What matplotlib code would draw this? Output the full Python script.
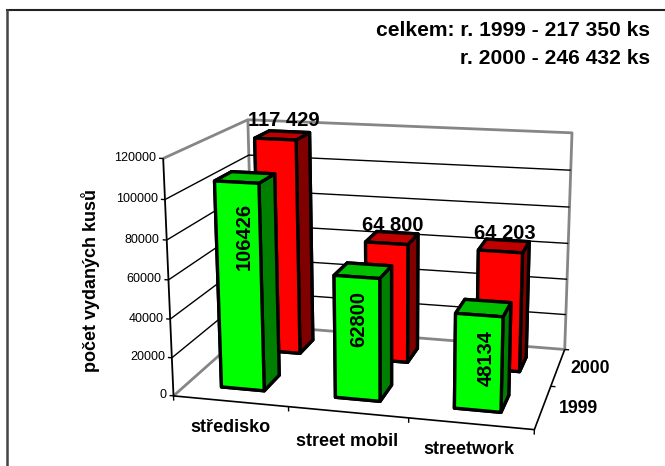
import numpy as np
import matplotlib
matplotlib.use('Agg')
import matplotlib.pyplot as plt
from matplotlib.lines import Line2D
from mpl_toolkits.mplot3d.art3d import Line3DCollection

plt.rcParams['font.family'] = ['Liberation Sans', 'DejaVu Sans']

categories = ['středisko', 'street mobil', 'streetwork']
years = ['1999', '2000']
values_1999 = [106426, 62800, 48134]
values_2000 = [117429, 64800, 64203]
labels_2000 = ['117 429', '64 800', '64 203']
z_ticks = [0, 20000, 40000, 60000, 80000, 100000, 120000]
z_max = 120000

W, H = 665, 466

# box corner (cat, series, value/zmax) -> where it sits on the picture
box = np.array([[0, 0, 0], [3, 0, 0], [3, 2, 0], [0, 2, 0], [0, 0, 1], [0, 2, 1], [3, 2, 1]], float)
pix = np.array([[174, 396], [534, 430], [565, 349], [253, 325], [163, 158], [248, 120], [572, 133]], float)


def fit_proj():
    rows = []
    rhs = []
    for (x, y, z), (u, v) in zip(box, pix):
        rows.append([x, y, z, 1, 0, 0, 0, 0, -u * x, -u * y, -u * z])
        rhs.append(u)
        rows.append([0, 0, 0, 0, x, y, z, 1, -v * x, -v * y, -v * z])
        rhs.append(v)
    p = np.linalg.lstsq(np.array(rows), np.array(rhs), rcond=None)[0]
    m = np.array([
        [p[0], p[1], p[2] / z_max, p[3]],
        [p[4], p[5], p[6] / z_max, p[7]],
        [-0.15, 1, -0.3 / z_max, 0],  # depth, only used for sorting faces
        [p[8], p[9], p[10] / z_max, 1],
    ])
    return m


fig = plt.figure(figsize=(W / 100, H / 100), dpi=100)
ax = fig.add_axes([0, 0, 1, 1], projection='3d', computed_zorder=False)
ax.set_axis_off()
ax.set_xlim(0, 3)
ax.set_ylim(0, 2)
ax.set_zlim(0, z_max)
ax.set_xticks([])
ax.set_yticks([])
ax.set_zticks([])
proj = fit_proj()
ax.get_proj = lambda: proj
ax.apply_aspect = lambda position=None: None
ax.M = proj


def line3d(pts, color='black', lw=1.0, zorder=3):
    ax.add_collection3d(Line3DCollection([pts], colors=color, linewidths=lw, zorder=zorder), autolim=False)


def label3d(x, y, z, s, **kw):
    # Text3D drops the rotation, so project the anchor and use a figure text
    v = proj @ np.array([x, y, z, 1.0])
    fig.text(v[0] / v[3] / W, 1 - v[1] / v[3] / H, s, ha=kw.pop('ha', 'center'), va=kw.pop('va', 'center'), **kw)


# walls
grey = '#868686'
line3d([(0, 0, 0), (0, 2, 0), (3, 2, 0), (3, 2, z_max), (0, 2, z_max), (0, 0, z_max)], grey, 2.0, 1)
line3d([(0, 2, 0), (0, 2, z_max)], grey, 2.0, 1)
for t in z_ticks[1:-1]:
    line3d([(0, 0, t), (0, 2, t), (3, 2, t)], 'black', 1.0, 2)

# axes in front
line3d([(0, 0, 0), (0, 0, z_max)], 'black', 1.3)
line3d([(0, 0, 0), (3, 0, 0), (3, 2, 0)], 'black', 1.2)
for t in z_ticks:
    line3d([(-0.035, 0, t), (0, 0, t)])
    label3d(-0.06, 0, t, str(t), ha='right', fontsize=9)
for i in range(4):
    line3d([(i, 0, 0), (i, 0, -2500)])
for i in range(1, 3):
    line3d([(3, i, 0), (3.04, i, 0)])

bar_x = [0.31, 1.31, 2.31]
bar_w = 0.38
zo = 5
for vals, y0, cols in [(values_2000, 1.3, ('#ff0000', '#c00000', '#800000')),
                       (values_1999, 0.3, ('#00ff00', '#00c000', '#008000'))]:
    for i in range(3):
        front, top, side = cols
        ax.bar3d(bar_x[i], y0, 0, bar_w, 0.4, vals[i], shade=False,
                 color=[top, top, front, front, side, side],
                 edgecolor='black', linewidth=2.4, zorder=zo)
        zo += 1

label_rise = [3000, 1500, 1500]
label_drop = [27000, 21000, 21000]
label_dx = [0.24, 0.205, 0.25]
for i in range(3):
    label3d(bar_x[i] + 0.2, 1.5, values_2000[i] + label_rise[i], labels_2000[i], va='bottom',
            fontsize=14.5, fontweight='bold')
    label3d(bar_x[i] + label_dx[i], 0.3, values_1999[i] - label_drop[i], str(values_1999[i]),
            rotation=90, fontsize=14.5, fontweight='bold')

cat_x = [0.70, 1.655, 2.58]
cat_y = [-0.55, -0.58, -0.52]
for i, c in enumerate(categories):
    label3d(cat_x[i], cat_y[i], 0, c, fontsize=13, fontweight='bold')
for i, y in enumerate(years):
    label3d(3.28, i + 0.53, 0, y, fontsize=12.7, fontweight='bold')

ax.viewLim.intervalx = (0, W)
ax.viewLim.intervaly = (H, 0)

# frame of the original sheet, only top and left show
fig.add_artist(Line2D([7 / W, 1], [1 - 9.5 / H, 1 - 9.5 / H], color='#222222', lw=1.5))
fig.add_artist(Line2D([7 / W, 7 / W], [1 - 9.5 / H, 0], color='#444444', lw=1.8))

fig.text(91 / W, 1 - 281 / H, 'počet vydaných kusů', rotation=90, ha='center', va='center',
         fontsize=13, fontweight='bold')
fig.text(650 / W, 1 - 31 / H, 'celkem: r. 1999 - 217 350 ks', ha='right', va='center',
         fontsize=15.1, fontweight='bold')
fig.text(650 / W, 1 - 59 / H, 'r. 2000 - 246 432 ks', ha='right', va='center',
         fontsize=15.1, fontweight='bold')

fig.savefig('out.png', dpi=100)
